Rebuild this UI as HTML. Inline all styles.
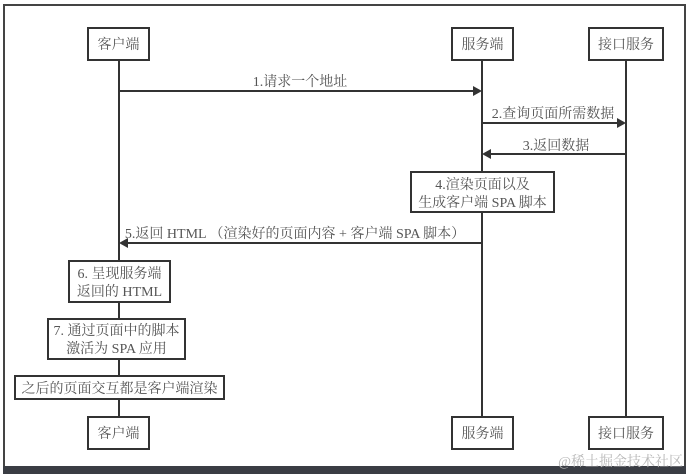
<!DOCTYPE html>
<html><head><meta charset="utf-8"><style>
html,body{margin:0;padding:0;background:#fff;}
svg{display:block}
text{font-family:"Liberation Serif","Noto Serif CJK SC",serif;fill:#555;font-size:14px;}
</style></head><body>
<svg width="689" height="476" viewBox="0 0 689 476" xmlns="http://www.w3.org/2000/svg">
<rect x="0" y="0" width="689" height="476" fill="#fff"/>
<rect x="4" y="5" width="681" height="463" fill="none" stroke="#444" stroke-width="2"/>
<rect x="3" y="466" width="683" height="8" fill="#3a3d44"/>
<g stroke="#333" stroke-width="2" fill="none">
<line x1="119" y1="60" x2="119" y2="417"/>
<line x1="482" y1="60" x2="482" y2="417"/>
<line x1="626" y1="60" x2="626" y2="417"/>
<line x1="119" y1="91" x2="474" y2="91"/>
<line x1="482" y1="123" x2="618" y2="123"/>
<line x1="626" y1="154" x2="490" y2="154"/>
<line x1="482" y1="243" x2="127" y2="243"/>
</g>
<g fill="#333">
<polygon points="482,91 473,86 473,96"/>
<polygon points="626,123 617,118 617,128"/>
<polygon points="482,154 491,149 491,159"/>
<polygon points="119,243 128,238 128,248"/>
</g>
<g stroke="#333" stroke-width="2" fill="#fff">
<rect x="88" y="28" width="61" height="32"/>
<rect x="452" y="28" width="61" height="32"/>
<rect x="589" y="28" width="74" height="32"/>
<rect x="88" y="417" width="61" height="32"/>
<rect x="452" y="417" width="61" height="32"/>
<rect x="589" y="417" width="74" height="32"/>
<rect x="411" y="172" width="143" height="40"/>
<rect x="69" y="261" width="101" height="41"/>
<rect x="48" y="319" width="137" height="40"/>
<rect x="15" y="376" width="209" height="23"/>
</g>
<g text-anchor="middle">
<text x="118.5" y="49">客户端</text>
<text x="482.5" y="49">服务端</text>
<text x="626" y="49">接口服务</text>
<text x="118.5" y="438">客户端</text>
<text x="482.5" y="438">服务端</text>
<text x="626" y="438">接口服务</text>
<text x="300" y="86">1.请求一个地址</text>
<text x="553" y="118">2.查询页面所需数据</text>
<text x="556" y="150">3.返回数据</text>
<text x="482.5" y="189">4.渲染页面以及</text>
<text x="482.5" y="207">生成客户端 SPA 脚本</text>
<text x="295" y="238">5.返回 HTML （渲染好的页面内容 + 客户端 SPA 脚本）</text>
<text x="119.5" y="278">6. 呈现服务端</text>
<text x="119.5" y="296">返回的 HTML</text>
<text x="116.5" y="335">7. 通过页面中的脚本</text>
<text x="116.5" y="353">激活为 SPA 应用</text>
<text x="119.5" y="393">之后的页面交互都是客户端渲染</text>
</g>
<text x="683" y="466" text-anchor="end" style="fill:#b8b8b8">@稀土掘金技术社区</text>
</svg>
</body></html>
